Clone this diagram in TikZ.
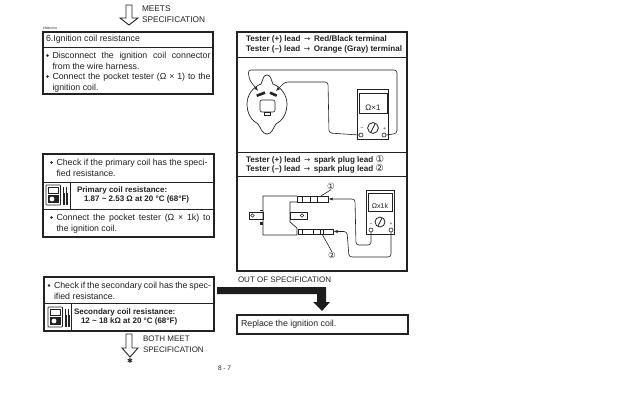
\documentclass[tikz,border=0pt]{standalone}
\usepackage{fontspec}
\setmainfont{Liberation Sans}
\newfontfamily\symf{DejaVu Sans}
\usetikzlibrary{arrows.meta,calc}
\definecolor{ink}{HTML}{222222}
\newcommand{\rarr}{\hspace*{3.6pt}{\symf\mdseries\fontsize{7.5}{9}\selectfont →}\hspace*{3.6pt}}
\newcommand{\circnum}[1]{{\symf\mdseries\fontsize{9.5}{9}\selectfont #1}}
\tikzset{
  every node/.style={text=ink,inner sep=0pt,outer sep=0pt,font=\fontsize{8.8}{10.7}\selectfont},
  frame/.style={draw=ink,line width=1.1pt},
  rule/.style={draw=ink,line width=1pt},
  thin line/.style={draw=ink,line width=.6pt},
  wire/.style={draw=ink,line width=.6pt,rounded corners=3pt},
  tipped/.style={wire,-{Latex[length=4pt,width=3pt]}},
  body/.style={anchor=north west,text width=#1,align=justify},
  line text/.style={anchor=west},
  heavy/.style={anchor=west,font=\fontsize{8}{9.6}\bfseries\selectfont,align=left},
  hollow arrow/.style={draw=ink,line width=.9pt,fill=white,line join=miter},
  dot/.style={circle,fill=ink,minimum size=2.6pt},
}
\newcommand{\bulletat}[2]{\node[dot] (#1) at #2 {};}
\begin{document}
\begin{tikzpicture}[x=1pt,y=-1pt]
\useasboundingbox[fill=white] (0,0) rectangle (620,404);
% top hollow arrow
\draw[hollow arrow] (126,5)--(132,5)--(132,18)--(138,18)--(129,25)--(120,18)--(126,18)--cycle;
\node[anchor=north west,font=\fontsize{8.3}{11}\selectfont,align=left] (meets) at (142,6) {MEETS\\SPECIFICATION};
\node[anchor=west,font=\fontsize{3}{3}\selectfont] (code) at (43,28.5) {EB802078};
% box 1
\draw[frame] (43,32) rectangle (213,94);
\draw[rule] (43,48)--(213,48);
\node[line text] (title) at (46,39) {6.Ignition coil resistance};
\bulletat{b1}{(47.5,55.5)}
\node[body=158pt] (t1) at (52.5,52.5) {Disconnect the ignition coil connector\linebreak from the wire harness.};
\bulletat{b2}{(47.5,76.5)}
\node[body=158pt] (t2) at (52.5,73.5) {Connect the pocket tester (Ω × 1) to the\linebreak ignition coil.};
% box 2
\draw[frame] (43,154) rectangle (214,237);
\draw[rule] (43,182)--(214,182);
\draw[rule] (43,209)--(214,209);
\draw[rule] (70,182)--(70,209);
\bulletat{b3}{(51.5,162.5)}
\node[body=154pt] (t3) at (56.5,159.5) {Check if the primary coil has the speci-\\fied resistance.};
\node[heavy] (p1) at (77,195) {Primary coil resistance:\\\hspace*{7pt}1.87 \raisebox{.3pt}{\textasciitilde} 2.53 Ω at 20 °C (68°F)};
\bulletat{b4}{(51.5,217.5)}
\node[body=154pt] (t4) at (56.5,214) {Connect the pocket tester (Ω × 1k) to\linebreak the ignition coil.};
% box 3
\draw[frame] (44,277) rectangle (214,331);
\draw[rule] (44,303)--(214,303);
\draw[rule] (71,303)--(71,331);
\bulletat{b5}{(49,285.5)}
\node[body=157pt] (t5) at (54,282.5) {Check if the secondary coil has the spec-\\ified resistance.};
\node[heavy] (p2) at (74,317) {Secondary coil resistance:\\\hspace*{7pt}12 \raisebox{.3pt}{\textasciitilde} 18 kΩ at 20 °C (68°F)};
% meter icons
\foreach \ox/\oy in {45/184,47/306}{
  \begin{scope}[shift={(\ox,\oy)}]
    \draw[ink,line width=.8pt,rounded corners=.6pt] (1,1) rectangle (15.5,21);
    \draw[ink,line width=.6pt] (3,3) rectangle (13.5,9);
    \fill[ink] (2.5,10.5) rectangle (14,19);
    \fill[white] (7,15) circle (2.4);
    \fill[ink] (17.5,9) rectangle (19.5,20.5);
    \fill[ink] (20.5,9) rectangle (22.5,20.5);
    \draw[ink,line width=.5pt] (18.5,9)--(18.5,3) (21.5,9)--(21.5,3);
  \end{scope}
}
% bottom hollow arrow
\draw[hollow arrow] (126,334)--(132,334)--(132,348)--(138,348)--(130,357)--(122,348)--(126,348)--cycle;
\node[font=\symf\fontsize{7}{7}\selectfont] (star) at (130,361) {✱};
\node[anchor=north west,font=\fontsize{8}{11}\selectfont,align=left] (both) at (143,336) {BOTH MEET\\SPECIFICATION};
% right panel
\draw[frame] (237,32) rectangle (407,271);
\draw[rule] (237,57)--(407,57);
\draw[rule] (237,152)--(407,152);
\draw[rule] (237,176)--(407,176);
\node[heavy,anchor=north west,font=\fontsize{8.1}{9.2}\bfseries\selectfont] (h1) at (246,36) {Tester (+) lead\rarr Red/Black terminal\\Tester (--) lead\rarr Orange (Gray) terminal};
\node[heavy,anchor=north west,font=\fontsize{8.1}{9.2}\bfseries\selectfont] (h2) at (246,155) {Tester (+) lead\rarr spark plug lead \circnum{①}\\Tester (--) lead\rarr spark plug lead \circnum{②}};
% --- coil, upper drawing
\draw[thin line,line width=.7pt,fill=white] (267,75) .. controls (263,75) and (263,80) .. (261,84)
  .. controls (253,87) and (247,95) .. (247,104) .. controls (247,114) and (252,121) .. (258,124)
  .. controls (261,128) and (262,134) .. (267,134) .. controls (272,134) and (273,128) .. (276,124)
  .. controls (282,121) and (287,114) .. (287,104) .. controls (287,95) and (281,87) .. (273,84)
  .. controls (271,80) and (271,75) .. (267,75) -- cycle;
\draw[thin line,rounded corners=2pt] (260,100) rectangle (275,112);
\draw[thin line] (264.5,112) rectangle (270.5,115.5);
\draw[ink,line width=2.6pt] (256.7,95.7)--(265,92.7);
\draw[ink,line width=2.6pt] (270,92.7)--(276.7,95.7);
% meter upper
\draw[ink,line width=.8pt] (357,89) rectangle (388,139);
\draw[ink,line width=.6pt] (359,93) rectangle (387,113);
\node[font=\fontsize{8}{8}\selectfont] (om1) at (373,107.5) {Ω×1};
\draw[ink,line width=.8pt] (373,128) circle (5.4);
\draw[ink,line width=.7pt] (371,132)--(375,124);
\node[font=\fontsize{5}{5}\selectfont] (m1) at (362,129) {--};
\node[font=\fontsize{5}{5}\selectfont] (p1s) at (384.5,129) {+};
\node[circle,draw=ink,line width=.6pt,minimum size=4pt,fill=white] (ta) at (361,135) {};
\node[circle,draw=ink,line width=.6pt,minimum size=4pt,fill=white] (tb) at (384,135) {};
\coordinate (lug1) at (258,91);
\coordinate (lug2) at (276,91);
\draw[tipped] (tb.east)--(397,133.5)--(397,70)--(248,70)--(249.5,80)--(lug1);
\draw[tipped] (ta.west)--(329,133)--(328,82)--(285,82)--(lug2);
% --- coil, lower drawing
\draw[thin line,line width=.7pt] (297,196)--(263,196)--(263,235)--(297,235)--(297,228)--(290,222)--(290,202)--(297,202);
\draw[thin line,line width=.7pt] (249,212) rectangle (263,219);
\draw[thin line,line width=.7pt] (290,212) rectangle (307,219);
\draw[thin line] (252.5,215.5) circle (1.8) (302,215.5) circle (1.8);
\fill[ink] (260,222) rectangle (263,224.5);
\fill[ink] (260,209.5) rectangle (263,211);
% leads
\draw[thin line] (297,196) rectangle (328,202);
\draw[thin line] (302,196)--(302,202) (310,196)--(310,202) (317,196)--(317,202);
\draw[thin line] (298,229) rectangle (333,234);
\draw[thin line] (302,229)--(302,234) (313,229)--(313,234) (320,229)--(320,234) (323,229)--(323,234);
\coordinate (lead1) at (328.5,199);
\coordinate (lead2) at (333.5,231.5);
% meter lower
\draw[ink,line width=.8pt] (366,190) rectangle (394,234);
\draw[ink,line width=.6pt] (368,193) rectangle (392,211);
\node[font=\fontsize{7}{7}\selectfont] (om2) at (380,205.5) {Ωx1k};
\draw[ink,line width=.8pt] (380,222) circle (5);
\draw[ink,line width=.7pt] (378,226)--(382,218);
\node[font=\fontsize{5}{5}\selectfont] (m2) at (371,224.5) {--};
\node[font=\fontsize{5}{5}\selectfont] (p2s) at (391,224.5) {+};
\node[circle,draw=ink,line width=.6pt,minimum size=4pt,fill=white] (tc) at (371,230) {};
\node[circle,draw=ink,line width=.6pt,minimum size=4pt,fill=white] (td) at (391,230) {};
\draw[tipped] (tc.south)--(371,245)--(356,245)--(355,199)--(lead1);
\draw[tipped] (td.south)--(391,257)--(349,257)--(347,231.5)--(lead2);
\node[font=\symf\fontsize{8.5}{9}\selectfont] (n1) at (331,186.5) {①};
\node[font=\symf\fontsize{8.5}{9}\selectfont] (n2) at (332,255) {②};
\draw[thin line] (n1.south)--(321,196);
\draw[thin line] (n2.north)--(322,234);
% out of specification
\node[anchor=west,font=\fontsize{8}{9}\selectfont] (oos) at (238,280) {OUT OF SPECIFICATION};
\fill[ink!85!black] (217,287)--(326,287)--(326,302)--(330,302)--(322,311)--(313,302)--(317,302)--(317,294)--(217,294)--cycle;
% replace
\draw[frame] (237,315) rectangle (408,334);
\node[line text] (rep) at (241,324) {Replace the ignition coil.};
\node[anchor=west,font=\fontsize{6.5}{7}\selectfont] (pg) at (218,368) {8 - 7};
\end{tikzpicture}
\end{document}
